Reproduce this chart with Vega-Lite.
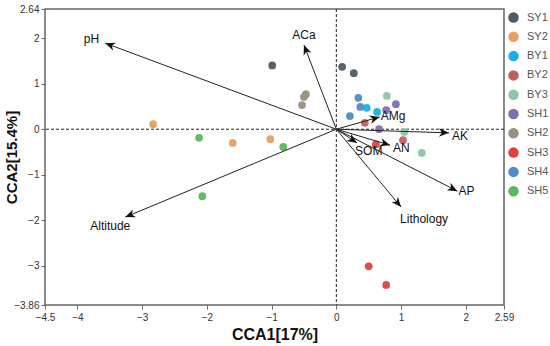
{
  "$schema": "https://vega.github.io/schema/vega-lite/v6.json",
  "autosize": {"type": "none"},
  "width": 459,
  "height": 296,
  "padding": {"left": 45, "top": 9, "right": 46, "bottom": 41},
  "background": "white",
  "config": {
    "font": "Liberation Sans",
    "view": {"stroke": "#666", "strokeWidth": 1.5},
    "axis": {"grid": false, "domain": false, "tickColor": "#666", "tickSize": 4, "labelFontSize": 10, "labelColor": "#333", "labelFont": "Liberation Sans"}
  },
  "datasets": {
    "points": [
      {"group": "SY1", "x": -0.99, "y": 1.40},
      {"group": "SY1", "x": 0.09, "y": 1.37},
      {"group": "SY1", "x": 0.27, "y": 1.23},
      {"group": "SY2", "x": -2.83, "y": 0.11},
      {"group": "SY2", "x": -1.60, "y": -0.30},
      {"group": "SY2", "x": -1.02, "y": -0.22},
      {"group": "BY1", "x": 0.47, "y": 0.47},
      {"group": "BY1", "x": 0.63, "y": 0.38},
      {"group": "BY2", "x": 0.44, "y": 0.14},
      {"group": "BY2", "x": 1.03, "y": -0.24},
      {"group": "BY3", "x": 0.78, "y": 0.73},
      {"group": "BY3", "x": 1.05, "y": -0.06},
      {"group": "BY3", "x": 1.32, "y": -0.52},
      {"group": "SH1", "x": 0.92, "y": 0.55},
      {"group": "SH1", "x": 0.77, "y": 0.42},
      {"group": "SH1", "x": 0.66, "y": 0.00},
      {"group": "SH2", "x": -0.47, "y": 0.77},
      {"group": "SH2", "x": -0.50, "y": 0.71},
      {"group": "SH2", "x": -0.53, "y": 0.53},
      {"group": "SH3", "x": 0.61, "y": -0.33},
      {"group": "SH3", "x": 0.50, "y": -3.01},
      {"group": "SH3", "x": 0.77, "y": -3.42},
      {"group": "SH4", "x": 0.34, "y": 0.69},
      {"group": "SH4", "x": 0.37, "y": 0.49},
      {"group": "SH4", "x": 0.21, "y": 0.29},
      {"group": "SH5", "x": -2.12, "y": -0.19},
      {"group": "SH5", "x": -0.82, "y": -0.39},
      {"group": "SH5", "x": -2.07, "y": -1.47}
    ],
    "vectors": [
      {"var": "pH", "x": -3.57, "y": 1.89},
      {"var": "ACa", "x": -0.50, "y": 1.85},
      {"var": "AMg", "x": 0.67, "y": 0.27},
      {"var": "AK", "x": 1.74, "y": -0.08},
      {"var": "AN", "x": 0.83, "y": -0.35},
      {"var": "SOM", "x": 0.32, "y": -0.30},
      {"var": "AP", "x": 1.87, "y": -1.36},
      {"var": "Lithology", "x": 1.00, "y": -1.71},
      {"var": "Altitude", "x": -3.26, "y": -1.93}
    ]
  },
  "layer": [
    {"data": {"values": [{"v": 0}]}, "mark": {"type": "rule", "strokeDash": [3, 2], "color": "#222", "strokeWidth": 1},
      "encoding": {"x": {"field": "v", "type": "quantitative", "scale": {"domain": [-4.5, 2.59], "nice": false, "zero": false},
        "axis": {"values": [-4.5, -4, -3, -2, -1, 0, 1, 2, 2.59], "format": ".3~g", "title": "CCA1[17%]", "titleFontSize": 16, "titleFontWeight": "bold", "titleColor": "#111", "titlePadding": 4, "labelPadding": 3, "labelFlush": false}}}},
    {"data": {"values": [{"v": 0}]}, "mark": {"type": "rule", "strokeDash": [3, 2], "color": "#222", "strokeWidth": 1},
      "encoding": {"y": {"field": "v", "type": "quantitative", "scale": {"domain": [-3.86, 2.64], "nice": false, "zero": false},
        "axis": {"values": [2.64, 2, 1, 0, -1, -2, -3, -3.86], "format": ".3~g", "title": "CCA2[15.4%]", "titleFontSize": 15, "titleFontWeight": "bold", "titleColor": "#111", "titlePadding": -6, "labelPadding": 2, "labelFlush": false}}}},
    {"data": {"name": "points"}, "mark": {"type": "circle", "size": 60, "opacity": 0.95},
      "encoding": {
        "x": {"field": "x", "type": "quantitative", "scale": {"domain": [-4.5, 2.59], "nice": false, "zero": false}},
        "y": {"field": "y", "type": "quantitative", "scale": {"domain": [-3.86, 2.64], "nice": false, "zero": false}},
        "color": {"field": "group", "type": "nominal",
          "scale": {"domain": ["SY1", "SY2", "BY1", "BY2", "BY3", "SH1", "SH2", "SH3", "SH4", "SH5"],
            "range": ["#4d5b63", "#e8a060", "#1ab0e6", "#c0605e", "#8fc4a8", "#7f6fad", "#9b9080", "#e3403f", "#4f8cc6", "#5cb85c"]},
          "legend": {"orient": "none", "legendX": 463, "legendY": 3, "title": null, "symbolSize": 110, "symbolType": "circle", "symbolOpacity": 1, "symbolStrokeWidth": 0, "labelFontSize": 11, "labelColor": "#555", "labelOffset": 8, "rowPadding": 7.3, "padding": 0}}}},
    {"data": {"name": "vectors"},
      "encoding": {
        "x": {"field": "x", "type": "quantitative", "scale": {"domain": [-4.5, 2.59], "nice": false, "zero": false}},
        "y": {"field": "y", "type": "quantitative", "scale": {"domain": [-3.86, 2.64], "nice": false, "zero": false}},
        "text": {"field": "var"}
      },
      "layer": [
        {"mark": {"type": "rule", "color": "#222", "strokeWidth": 1},
          "encoding": {"x2": {"datum": 0}, "y2": {"datum": 0}}},
        {"transform": [{"calculate": "atan2(-datum.y * 45.54, datum.x * 64.74) * 180 / PI", "as": "ang"}],
          "mark": {"type": "point", "shape": "M0,0L-1,-0.42L-0.7,0L-1,0.42Z", "filled": true, "color": "#111", "opacity": 1, "size": 400, "strokeWidth": 0},
          "encoding": {"angle": {"field": "ang", "type": "quantitative", "scale": null}}},
        {"transform": [{"filter": "datum.var == 'pH'"}], "mark": {"type": "text", "fontSize": 12, "color": "#111", "align": "right", "baseline": "middle", "dx": -6, "dy": -4}},
        {"transform": [{"filter": "datum.var == 'Altitude'"}], "mark": {"type": "text", "fontSize": 12, "color": "#111", "align": "center", "baseline": "middle", "dx": -15, "dy": 9}},
        {"transform": [{"filter": "datum.var == 'ACa'"}], "mark": {"type": "text", "fontSize": 12, "color": "#111", "align": "center", "baseline": "middle", "dx": 0, "dy": -10}},
        {"transform": [{"filter": "datum.var == 'AMg'"}], "mark": {"type": "text", "fontSize": 12, "color": "#111", "align": "left", "baseline": "middle", "dx": 1, "dy": -1}},
        {"transform": [{"filter": "datum.var == 'AK'"}], "mark": {"type": "text", "fontSize": 12, "color": "#111", "align": "left", "baseline": "middle", "dx": 3, "dy": 3}},
        {"transform": [{"filter": "datum.var == 'AN'"}], "mark": {"type": "text", "fontSize": 12, "color": "#111", "align": "left", "baseline": "middle", "dx": 3, "dy": 3}},
        {"transform": [{"filter": "datum.var == 'SOM'"}], "mark": {"type": "text", "fontSize": 12, "color": "#111", "align": "left", "baseline": "middle", "dx": -2, "dy": 8}},
        {"transform": [{"filter": "datum.var == 'AP'"}], "mark": {"type": "text", "fontSize": 12, "color": "#111", "align": "left", "baseline": "middle", "dx": 1, "dy": 0}},
        {"transform": [{"filter": "datum.var == 'Lithology'"}], "mark": {"type": "text", "fontSize": 12, "color": "#111", "align": "left", "baseline": "middle", "dx": -1, "dy": 12}}
      ]
    }
  ]
}
